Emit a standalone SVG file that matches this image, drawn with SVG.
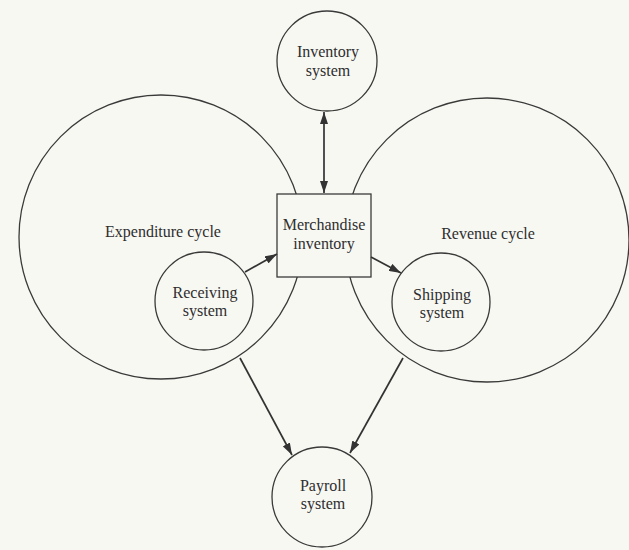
<svg xmlns="http://www.w3.org/2000/svg" width="629" height="550" viewBox="0 0 629 550">
<style>
.shape{fill:none;stroke:#3a3a3a;stroke-width:1.3}
.conn{fill:none;stroke:#333;stroke-width:1.7}
.lbl{font-family:"Liberation Serif","Times New Roman",serif;font-size:16px;fill:#2e2e2e;text-anchor:middle}
</style>
<defs>
<marker id="ah" viewBox="0 0 12 8" refX="12" refY="4" markerWidth="12" markerHeight="8" markerUnits="userSpaceOnUse" orient="auto-start-reverse">
<path d="M0,0 L12,4 L0,8 Z" fill="#333"/>
</marker>
</defs>
<rect width="629" height="550" fill="#f8f8f3"/>
<g id="expenditure-cycle">
<circle class="shape" cx="161" cy="237" r="142"/>
<text class="lbl" x="163" y="237">Expenditure cycle</text>
</g>
<g id="revenue-cycle">
<circle class="shape" cx="487" cy="240" r="142"/>
<text class="lbl" x="488" y="239">Revenue cycle</text>
</g>
<g id="inventory-system">
<circle class="shape" cx="327" cy="61" r="50" fill="#f8f8f3"/>
<text class="lbl" x="328" y="57">Inventory</text>
<text class="lbl" x="328" y="76">system</text>
</g>
<g id="merchandise-inventory">
<rect class="shape" x="277" y="194" width="94" height="83" fill="#f8f8f3" style="fill:#f8f8f3"/>
<text class="lbl" x="324" y="230">Merchandise</text>
<text class="lbl" x="324" y="249">inventory</text>
</g>
<g id="receiving-system">
<circle class="shape" cx="204" cy="301" r="49"/>
<text class="lbl" x="205" y="298">Receiving</text>
<text class="lbl" x="205" y="316">system</text>
</g>
<g id="shipping-system">
<circle class="shape" cx="441" cy="302" r="49"/>
<text class="lbl" x="442" y="300">Shipping</text>
<text class="lbl" x="442" y="318">system</text>
</g>
<g id="payroll-system">
<circle class="shape" cx="322" cy="497" r="50"/>
<text class="lbl" x="323" y="491">Payroll</text>
<text class="lbl" x="323" y="509">system</text>
</g>
<g id="connectors">
<line class="conn" x1="324" y1="112" x2="324" y2="193" marker-start="url(#ah)" marker-end="url(#ah)"/>
<line class="conn" x1="245" y1="272" x2="277" y2="254" marker-end="url(#ah)"/>
<line class="conn" x1="371" y1="257" x2="401" y2="273" marker-end="url(#ah)"/>
<line class="conn" x1="240" y1="358" x2="292" y2="455" marker-end="url(#ah)"/>
<line class="conn" x1="403" y1="358" x2="350" y2="453" marker-end="url(#ah)"/>
</g>
</svg>
